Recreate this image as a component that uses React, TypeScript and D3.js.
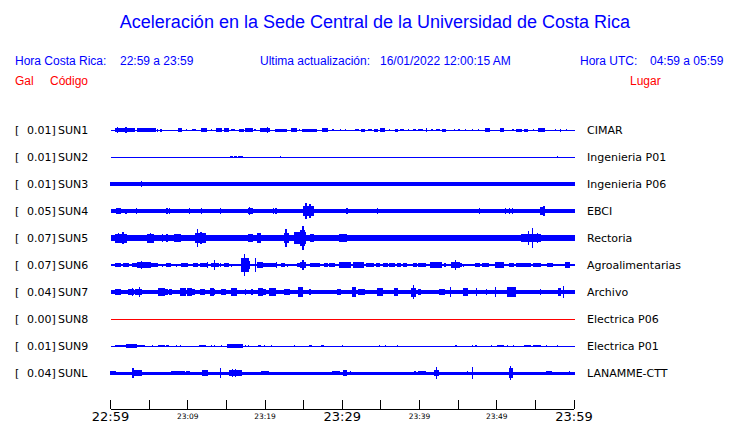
import { useEffect } from 'react'
import { scaleLinear, scalePoint, range } from 'd3'

const WIDTH = 740
const HEIGHT = 423

// station codes, max acceleration (Gal) and place names
const codes = ['SUN1', 'SUN2', 'SUN3', 'SUN4', 'SUN5', 'SUN6', 'SUN7', 'SUN8', 'SUN9', 'SUNL']
const peaks = ['0.01', '0.01', '0.01', '0.05', '0.07', '0.07', '0.04', '0.00', '0.01', '0.04']
const places = [
  'CIMAR', 'Ingenieria P01', 'Ingenieria P06', 'EBCI', 'Rectoria',
  'Agroalimentarias', 'Archivo', 'Electrica P06', 'Electrica P01', 'LANAMME-CTT',
]

// background noise level of each trace (half amplitude, relative units)
const baseLevels = [0.5, 0.5, 1.6, 1.7, 2.7, 1, 1.7, 0.5, 0.5, 1.5]

// bursts: [start minute, end minute, half amplitude]
type Burst = [number, number, number]
const sun1: Burst[] = [
  [0.6, 3.1, 2], [0.9, 0.9, 3], [2.0, 2.0, 2.7], [3.5, 4.0, 2], [4.2, 5.8, 1.7], [6.1, 6.1, 1.5],
  [6.5, 6.6, 1.5], [8.75, 9.2, 1.7], [9.8, 9.8, 1.3], [10.6, 11.0, 1.3], [11.75, 12.4, 1.7],
  [13.1, 13.1, 1.3], [13.75, 14.4, 1.7], [14.8, 15.2, 1.7], [15.7, 16.0, 1.3], [16.7, 17.2, 1.5],
  [17.5, 18.3, 1.7], [18.7, 18.7, 1.3], [19.4, 20.6, 1.7], [20.35, 20.35, 2.7], [21.3, 22.7, 1.5],
  [23.4, 24.0, 1.7], [24.5, 24.5, 1.3], [24.8, 26.7, 1.5], [27.5, 28.1, 1.7], [28.8, 28.8, 1.3],
  [29.8, 29.8, 1.3], [30.4, 30.4, 1], [31.7, 32.1, 1.3], [32.5, 32.9, 1.5], [33.4, 33.8, 1.3],
  [34.2, 34.6, 1.5], [35.0, 35.4, 1.7], [36.1, 36.1, 1.3], [36.9, 37.1, 1.5], [37.5, 37.9, 1.3],
  [38.6, 38.6, 1.3], [39.2, 39.5, 1.3], [39.9, 40.3, 1.3], [40.9, 40.9, 2.3], [41.6, 41.6, 1.3],
  [42.2, 42.5, 1.3], [43.0, 43.3, 1.5], [44.5, 44.5, 1.3], [45.1, 45.1, 1.3], [45.9, 45.9, 1.3],
  [46.8, 46.8, 1.3], [47.6, 47.6, 1.3], [48.5, 49.1, 1.7], [50.5, 50.9, 2], [52.1, 52.1, 1.3],
  [52.6, 53.2, 1.5], [53.6, 54.0, 1.5], [54.7, 54.7, 1.3], [55.4, 56.2, 2], [57.6, 57.6, 1.3],
  [58.2, 58.2, 1.5], [59.0, 59.0, 1.3],
]
const sun2: Burst[] = [
  [15.5, 15.8, 1.3], [16.0, 16.3, 1.3], [16.6, 17.0, 1.3], [22.0, 22.0, 1], [57.9, 57.9, 1],
]
const sun3: Burst[] = [
  [0, 19.6, 2], [4.0, 4.0, 2.8], [19.6, 20.6, 2], [24.8, 27.8, 1.8], [28.4, 31.6, 1.8], [33, 35, 1.8],
  [36.5, 39.5, 1.8], [39.9, 40.5, 2], [41, 43, 1.8], [44, 46.5, 2], [47.6, 52, 1.8], [53, 59.4, 2],
  [59.4, 59.4, 2.3],
]
const sun4: Burst[] = [
  [0.75, 0.75, 3], [0.9, 1.3, 2.7], [2.0, 2.0, 2.5], [3.4, 3.4, 2.7], [7.3, 7.3, 2.7], [7.6, 7.6, 2.7],
  [10.2, 10.2, 2.7], [11.8, 11.8, 2.7], [14.2, 14.2, 2.7], [15.8, 15.8, 2.3], [17.8, 18.4, 3.3],
  [18.0, 18.0, 4], [18.75, 19.4, 2.3], [19.6, 19.6, 2.3], [20.0, 20.0, 2.4], [21.1, 21.1, 2.7],
  [21.4, 21.4, 2.7], [25.0, 26.2, 5], [25.2, 25.3, 8.3], [25.8, 25.8, 6.7], [29.3, 29.3, 2.3],
  [30.6, 30.6, 2.7], [34.5, 34.5, 2.7], [40.3, 40.3, 2.3], [47.8, 47.8, 2.7], [49.9, 49.9, 2.3],
  [51.1, 51.1, 2.7], [51.6, 51.6, 2.7], [52.0, 52.0, 2.7], [55.7, 56.2, 4], [56.1, 56.1, 5],
  [59.4, 59.4, 2.3],
]
const sun5: Burst[] = [
  [0.6, 2.1, 4.5], [1.6, 1.6, 6], [1.0, 1.0, 5], [2.3, 4.6, 3], [4.8, 5.6, 4.5], [5.2, 5.2, 4.7],
  [5.8, 8.1, 3.3], [6.7, 6.7, 4], [7.3, 7.3, 4], [8.3, 9.0, 4], [9.2, 10.8, 3], [11.0, 12.3, 5],
  [11.3, 11.3, 8.7], [11.7, 11.7, 6], [12.5, 15, 3.2], [15.8, 16.7, 3.3], [17.1, 17.5, 3],
  [17.9, 18.3, 4], [19.0, 19.4, 4.7], [19.6, 22.1, 3.2], [22.5, 23.0, 5], [22.7, 22.7, 9],
  [23.8, 25.2, 6], [24.6, 25.1, 8.3], [24.9, 24.9, 12], [25.9, 26.3, 4], [26.5, 29.2, 3],
  [29.6, 30.5, 3.7], [32.5, 33.5, 3], [34.2, 34.6, 3], [35.4, 36.2, 3], [37.5, 38.4, 3],
  [39.9, 40.7, 3.3], [42, 43.2, 3], [44.8, 46.2, 3.3], [46.6, 47.2, 3], [48.4, 48.8, 3],
  [50.1, 53.2, 3.3], [53.2, 55.7, 4.3], [54.1, 54.1, 6.7], [54.6, 54.6, 10], [55.3, 55.3, 5],
  [55.7, 59.4, 3],
]
const sun6: Burst[] = [
  [0.6, 1.25, 2], [1.7, 2.3, 1.7], [2.9, 3.3, 2], [3.5, 4.0, 2.7], [4.0, 4.0, 4.3], [4.1, 4.8, 3],
  [4.9, 5.2, 3.3], [5.2, 6.0, 2], [6.7, 6.7, 1.5], [7.3, 7.7, 1.7], [8.5, 8.5, 1.5], [9.25, 10, 2],
  [10.8, 11.25, 1.7], [11.7, 12.5, 2], [12.5, 12.5, 3], [13.1, 13.3, 1.7], [13.3, 14.0, 2.3],
  [13.5, 13.5, 5.3], [14.2, 14.2, 1.7], [14.8, 15.2, 2], [15.6, 15.6, 1.5], [16.9, 17.9, 6.7],
  [17.3, 17.3, 11], [17.9, 18.0, 4], [18.75, 18.75, 7.3], [19.0, 19.6, 2.7], [19.6, 20.0, 2],
  [20.2, 21.5, 2.3], [21.5, 21.5, 3], [22.1, 22.5, 1.7], [22.85, 22.85, 1.5], [24.2, 24.6, 1.7],
  [24.6, 25.2, 2.7], [24.9, 24.9, 5], [25.9, 27, 2], [27.7, 28, 2], [28.4, 29, 2], [29.7, 31.1, 2.7],
  [31.5, 32.7, 2.7], [33.1, 34, 2], [34.4, 34.8, 1.7], [35.4, 35.8, 1.7], [36.1, 36.7, 2.3],
  [37.1, 37.5, 1.7], [37.9, 38.3, 1.7], [39.2, 39.6, 2], [39.9, 40.7, 2], [41.4, 42.8, 3],
  [43.2, 43.4, 2], [44.1, 45.1, 2.7], [44.6, 44.6, 5], [45.1, 45.4, 2], [45.7, 45.7, 1.5],
  [47.2, 47.8, 2.3], [48.2, 48.9, 2.3], [49.9, 50.9, 2.7], [51.6, 52.2, 2], [52.6, 54.3, 2.3],
  [54.7, 55.7, 2.3], [56.6, 57.2, 2.3], [58.9, 59.4, 3],
]
const sun7: Burst[] = [
  [0.6, 1.25, 3], [2.3, 2.9, 3], [2.8, 2.8, 4.3], [3.3, 4.0, 3.3], [3.7, 3.7, 4.7], [4.4, 4.8, 2.3],
  [6.25, 6.9, 4], [7.1, 7.4, 3], [7.7, 7.9, 2.7], [9.0, 9.7, 4.3], [10.0, 10.4, 4], [10.6, 10.9, 2.7],
  [11.7, 12.1, 3.3], [12.9, 13.3, 3.7], [13.5, 13.5, 3.3], [14.4, 14.8, 3.3], [15.6, 16.25, 4.3],
  [17.5, 17.5, 3.3], [18.3, 18.3, 3.3], [19.2, 19.6, 4], [19.6, 20.0, 3.3], [20.6, 21.3, 4],
  [21.9, 21.9, 2.3], [22.5, 23.1, 3], [24.4, 24.8, 4.7], [25.8, 25.8, 2.7], [29.4, 29.8, 3.3],
  [31.3, 31.7, 4.7], [32.1, 32.9, 3], [34.6, 35.2, 4.3], [36.7, 37.1, 3.7], [39.0, 39.4, 4.5],
  [39.2, 39.2, 7], [39.9, 40.1, 3.3], [42.6, 43.2, 3.3], [44.0, 44.0, 5], [45.7, 46.2, 3.7],
  [47.4, 47.4, 4.3], [48.65, 48.65, 3.3], [49.8, 49.8, 4.7], [51.4, 52.4, 4.7], [54.7, 54.7, 2.3],
  [55.7, 55.7, 3], [58.0, 58.2, 3.7], [58.65, 58.65, 5.7],
]
const sun8: Burst[] = []
const sun9: Burst[] = [
  [0.6, 1.5, 1.3], [1.7, 2.1, 1.3], [2.1, 3.3, 1.7], [3.5, 4.4, 1.3], [5.4, 5.4, 1], [6.25, 6.9, 1.3],
  [7.3, 7.5, 1], [8.5, 8.5, 1], [9.0, 9.0, 1], [11.5, 12.3, 1.3], [13.1, 13.1, 1], [13.5, 13.5, 1],
  [14.4, 14.4, 1], [15.2, 17.1, 1.7], [17.5, 17.5, 1], [17.9, 17.9, 1], [19.2, 19.4, 1.3],
  [19.9, 19.9, 1], [20.8, 20.8, 1], [23.8, 23.8, 1], [25.8, 26, 1.3], [27.3, 27.3, 1],
  [27.5, 27.5, 1], [30.0, 30.0, 1], [34.8, 34.8, 1], [35.6, 35.6, 1], [37.1, 37.1, 1],
  [44.7, 44.7, 1], [46.8, 46.8, 1.3], [47.3, 47.3, 1.3], [49.3, 49.3, 1], [50.1, 50.9, 1.3],
  [51.4, 51.4, 1], [52.2, 52.2, 1], [53.6, 54.3, 1.3], [54.7, 55.7, 1.3], [56.4, 56.4, 1],
  [57.8, 57.8, 1],
]
const sunl: Burst[] = [
  [0, 0.6, 1.7], [2.9, 2.9, 5.3], [2.9, 4.0, 2.7], [7.9, 9.6, 1.7], [9.8, 10.2, 2.3],
  [11.9, 12.5, 2.7], [14.2, 14.2, 4.7], [15.4, 16.9, 3.3], [15.8, 15.8, 4], [16.2, 16.2, 4],
  [19.6, 20.4, 1.7], [28.8, 29.6, 2.3], [30.2, 30.5, 2.7], [31.1, 31.1, 2], [39.4, 39.4, 2],
  [39.9, 40.7, 1.7], [42.0, 42.4, 3.3], [42.2, 42.2, 6], [46.2, 46.2, 2.3], [46.8, 46.8, 5.7],
  [51.6, 52.0, 5], [51.8, 51.8, 6.7], [56.4, 57.0, 2], [59.4, 59.4, 2],
]
const bursts = [sun1, sun2, sun3, sun4, sun5, sun6, sun7, sun8, sun9, sunl]
const traceColors = ['#0000ff', '#0000ff', '#0000ff', '#0000ff', '#0000ff', '#0000ff', '#0000ff', '#ff0000', '#0000ff', '#0000ff']

// time axis: minutes after 22:59, a tick every 5 minutes
const tickMinutes = range(0, 61, 5)
const majorLabels: [number, string][] = [[0, '22:59'], [30, '23:29'], [60, '23:59']]
const minorLabels: [number, string][] = [[10, '23:09'], [20, '23:19'], [40, '23:39'], [50, '23:49']]

const BLUE = '#0000ff'
const RED = '#ff0000'
const HEAD_FONT = '"Liberation Sans", Arial, sans-serif'
const LABEL_FONT = '"DejaVu Sans", sans-serif'

export default function App() {
  useEffect(() => {
    document.body.style.margin = '0'
  }, [])

  const x = scaleLinear().domain([0, 60]).range([110.5, 574])
  const y = scalePoint<string>().domain(codes).range([130, 373])
  const amp = scaleLinear().domain([0, 12]).range([0, 12])
  const axisY = 409

  return (
    <svg width={WIDTH} height={HEIGHT} style={{ display: 'block', background: '#fff' }}>
      <text x={375} y={28} textAnchor="middle" fill={BLUE} fontFamily={HEAD_FONT} fontSize={18}>
        Aceleración en la Sede Central de la Universidad de Costa Rica
      </text>

      <g fontFamily={HEAD_FONT} fontSize={12} fill={BLUE}>
        <text x={15} y={65}>Hora Costa Rica:</text>
        <text x={120} y={65}>22:59 a 23:59</text>
        <text x={260} y={65}>Ultima actualización:</text>
        <text x={380} y={65}>16/01/2022 12:00:15 AM</text>
        <text x={580} y={65}>Hora UTC:</text>
        <text x={650} y={65}>04:59 a 05:59</text>
      </g>
      <g fontFamily={HEAD_FONT} fontSize={12} fill={RED}>
        <text x={15} y={85}>Gal</text>
        <text x={50} y={85}>Código</text>
        <text x={630} y={85}>Lugar</text>
      </g>

      {codes.map((code, i) => {
        const cy = y(code) ?? 0
        const base = Math.max(amp(baseLevels[i]) * 2, 1)
        return (
          <g key={code}>
            <g fontFamily={LABEL_FONT} fontSize={11} fill="#000">
              <text x={15} y={cy + 4}>[</text>
              <text x={27} y={cy + 4}>{peaks[i]}]</text>
              <text x={58} y={cy + 4}>{code}</text>
              <text x={587} y={cy + 4}>{places[i]}</text>
            </g>
            <g fill={traceColors[i]} shapeRendering="crispEdges">
              <rect x={x(0)} y={cy - base / 2} width={x(60) - x(0) + 1} height={base} />
              {bursts[i].map(([s, e, a], j) => {
                const h = amp(a)
                return (
                  <rect
                    key={j}
                    x={x(s) - 0.5}
                    y={cy - h}
                    width={Math.max(x(e) - x(s), 0) + 1.2}
                    height={h * 2}
                  />
                )
              })}
            </g>
          </g>
        )
      })}

      <g stroke="#000" strokeWidth={1} shapeRendering="crispEdges">
        <line x1={x(0)} x2={x(60)} y1={axisY} y2={axisY} />
        {tickMinutes.map((m) => (
          <line key={m} x1={x(m)} x2={x(m)} y1={axisY} y2={axisY - 9} />
        ))}
      </g>
      <g fontFamily={LABEL_FONT} fill="#000" textAnchor="middle">
        {majorLabels.map(([m, label]) => (
          <text key={label} x={x(m)} y={421} fontSize={13}>
            {label}
          </text>
        ))}
        {minorLabels.map(([m, label]) => (
          <text key={label} x={x(m)} y={418.5} fontSize={7.5}>
            {label}
          </text>
        ))}
      </g>
    </svg>
  )
}
